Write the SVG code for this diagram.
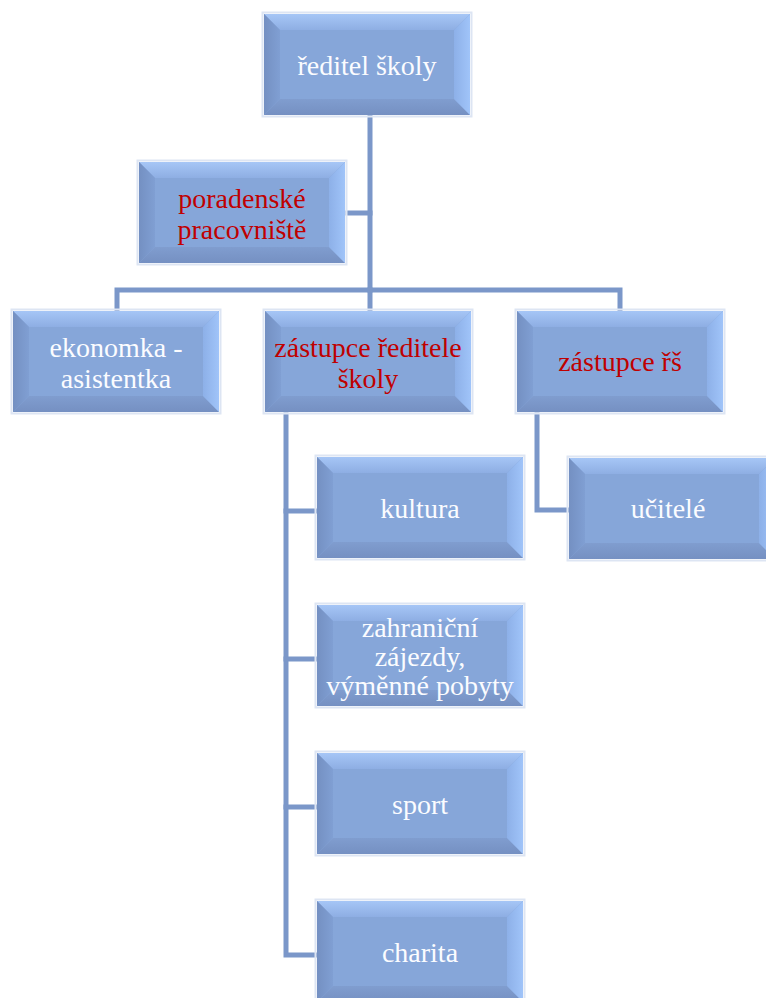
<svg xmlns="http://www.w3.org/2000/svg" xmlns:xlink="http://www.w3.org/1999/xlink" width="766" height="998" viewBox="0 0 766 998">
<style>
.t{font-family:"Liberation Serif","Times New Roman",serif;font-size:28px;text-anchor:middle;fill:#fbfcff}
.r{fill:#c00000}
.c{stroke:#7b97c9;stroke-width:5;fill:none;stroke-linecap:square;stroke-linejoin:miter}
</style>
<defs>
<linearGradient id="gTop" x1="0" y1="0" x2="0" y2="1"><stop offset="0" stop-color="#a6c6f6"/><stop offset="1" stop-color="#8eaee3"/></linearGradient>
<linearGradient id="gLeft" x1="0" y1="0" x2="1" y2="0"><stop offset="0" stop-color="#7490c2"/><stop offset="1" stop-color="#809fd3"/></linearGradient>
<linearGradient id="gBot" x1="0" y1="0" x2="0" y2="1"><stop offset="0" stop-color="#809dcf"/><stop offset="1" stop-color="#7590c2"/></linearGradient>
<linearGradient id="gRight" x1="0" y1="0" x2="1" y2="0"><stop offset="0" stop-color="#8db0e8"/><stop offset="1" stop-color="#a0c4f9"/></linearGradient>
<g id="bevel">
<rect x="-1.5" y="-1.5" width="209" height="104" fill="none" stroke="#dde5f3" stroke-width="2"/>
<rect x="0" y="0" width="206" height="101" fill="#86a6d9"/>
<polygon points="0,0 206,0 190,16 16,16" fill="url(#gTop)"/>
<polygon points="0,0 16,16 16,85 0,101" fill="url(#gLeft)"/>
<polygon points="0,101 16,85 190,85 206,101" fill="url(#gBot)"/>
<polygon points="206,0 206,101 190,85 190,16" fill="url(#gRight)"/>
</g>
</defs>
<g id="connectors">
<path class="c" d="M370,116 V290"/>
<path class="c" d="M348,213 H370"/>
<path class="c" d="M117,309 V290 H620 V309"/>
<path class="c" d="M370,290 V309"/>
<path class="c" d="M286,415 V955 H315"/>
<path class="c" d="M286,511 H315"/>
<path class="c" d="M286,659 H315"/>
<path class="c" d="M286,807 H315"/>
<path class="c" d="M537,415 V510 H567"/>
</g>
<g id="reditel">
<use xlink:href="#bevel" x="264" y="14"/>
<text class="t" x="367" y="75">ředitel školy</text>
</g>
<g id="poradenske">
<use xlink:href="#bevel" x="139" y="162"/>
<text class="t r" x="242" y="208">poradenské</text>
<text class="t r" x="242" y="239">pracovniště</text>
</g>
<g id="ekonomka">
<use xlink:href="#bevel" x="13" y="311"/>
<text class="t" x="116" y="357">ekonomka -</text>
<text class="t" x="116" y="388">asistentka</text>
</g>
<g id="zastupce-reditele">
<use xlink:href="#bevel" x="265" y="311"/>
<text class="t r" x="368" y="357">zástupce ředitele</text>
<text class="t r" x="368" y="388">školy</text>
</g>
<g id="zastupce-rs">
<use xlink:href="#bevel" x="517" y="311"/>
<text class="t r" x="620" y="371">zástupce řš</text>
</g>
<g id="kultura">
<use xlink:href="#bevel" x="317" y="457"/>
<text class="t" x="420" y="518">kultura</text>
</g>
<g id="zahranicni">
<use xlink:href="#bevel" x="317" y="605"/>
<text class="t" x="420" y="637">zahraniční</text>
<text class="t" x="420" y="666">zájezdy,</text>
<text class="t" x="420" y="695">výměnné pobyty</text>
</g>
<g id="sport">
<use xlink:href="#bevel" x="317" y="753"/>
<text class="t" x="420" y="814">sport</text>
</g>
<g id="charita">
<use xlink:href="#bevel" x="317" y="901"/>
<text class="t" x="420" y="962">charita</text>
</g>
<g id="ucitele">
<use xlink:href="#bevel" x="569" y="458"/>
<text class="t" x="668" y="518">učitelé</text>
</g>
</svg>
